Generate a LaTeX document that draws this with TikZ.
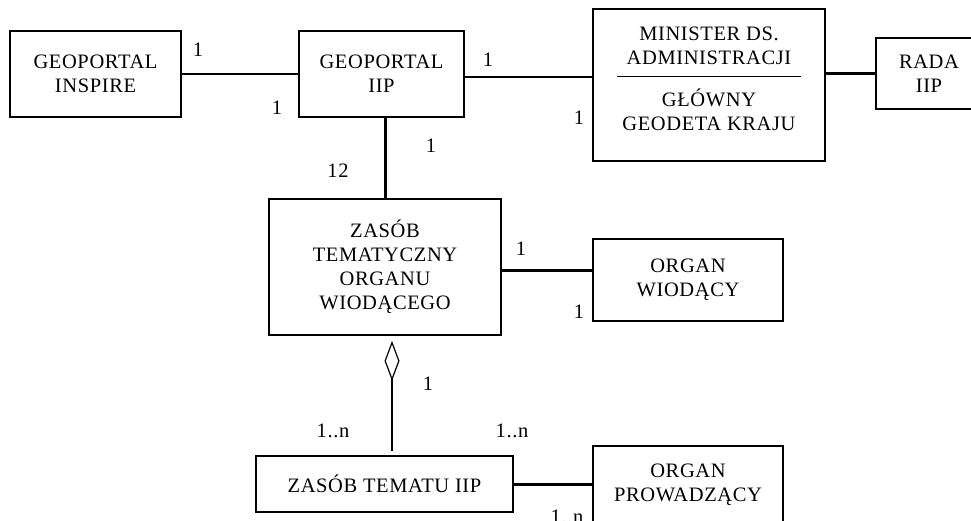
\documentclass[tikz,border=0pt]{standalone}
\usepackage{fontspec}
\setmainfont[LetterSpace=3]{Liberation Serif}
\usetikzlibrary{arrows.meta,calc}

\begin{document}
\begin{tikzpicture}[
  x=1pt,
  y=-1pt,
  box/.style={draw,line width=1.8pt,align=center,inner sep=0pt,
    font=\fontsize{20.5}{24}\selectfont},
  boxtext/.style={align=center,inner sep=0pt,font=\fontsize{20.5}{24}\selectfont},
  mult/.style={inner sep=0pt,font=\fontsize{20.5}{24}\selectfont},
  link/.style={line width=2pt},
  heavylink/.style={line width=3pt}
]
\useasboundingbox (0,0) rectangle (971,521);
\clip (0,0) rectangle (971,521);

% Top row
\node[box,minimum width=171pt,minimum height=86pt] (inspire) at (95.5,74)
  {GEOPORTAL\\INSPIRE};
\node[box,minimum width=165pt,minimum height=86pt] (iip) at (381.5,74)
  {GEOPORTAL\\IIP};
\node[box,minimum width=232pt,minimum height=152pt] (minister) at (709,85) {};
\node[boxtext] (ministerup) at (709,46) {MINISTER DS.\\ADMINISTRACJI};
\node[boxtext] (ministerdown) at (709,110) {GŁÓWNY\\GEODETA KRAJU};
\draw[line width=1pt] ($(minister.west)+(25,-8)$) -- ($(minister.east)+(-25,-8)$);
\node[box,minimum width=106pt,minimum height=71pt] (rada) at (929,73.5)
  {RADA\\IIP};

% Middle and bottom rows
\node[box,minimum width=232pt,minimum height=136pt] (zasob) at (385,267)
  {ZASÓB\\TEMATYCZNY\\ORGANU\\WIODĄCEGO};
\node[box,minimum width=190pt,minimum height=82pt] (wiodacy) at (688,280)
  {ORGAN\\WIODĄCY};
\node[box,minimum width=257pt,minimum height=56pt] (tematu) at (384.5,484)
  {ZASÓB TEMATU IIP};
\node[box,minimum width=190pt,minimum height=78pt] (prowadzacy) at (688,485)
  {ORGAN\\PROWADZĄCY};

% Associations
\draw[link] (inspire.east) -- (iip.west);
\draw[link] ([yshift=-3pt]iip.east) -- ([yshift=-3pt]iip.east -| minister.west);
\draw[heavylink] (rada.west -| minister.east) -- (rada.west);
\draw[heavylink] (iip.south -| zasob.north) -- (zasob.north);
\draw[heavylink] ([yshift=-3pt]zasob.east) -- ([yshift=-3pt]zasob.east -| wiodacy.west);
\draw[heavylink] (tematu.east) -- (tematu.east -| prowadzacy.west);
\draw[link,{Diamond[open,length=40pt,width=15pt,line width=1.2pt]}-,
  shorten <=5pt,shorten >=4pt]
  ([xshift=7pt]zasob.south) -- ([xshift=7pt]zasob.south |- tematu.north);

% Multiplicities
\node[mult] (m1) at (198,50) {1};
\node[mult] (m2) at (277,108) {1};
\node[mult] (m3) at (488,60) {1};
\node[mult] (m4) at (579,118) {1};
\node[mult] (m5) at (338,171) {12};
\node[mult] (m6) at (431,146) {1};
\node[mult] (m7) at (521,249) {1};
\node[mult] (m8) at (579,312) {1};
\node[mult] (m9) at (428,384) {1};
\node[mult] (m10) at (333,431) {1..n};
\node[mult] (m11) at (512,431) {1..n};
\node[mult] (m12) at (567,517) {1..n};

\end{tikzpicture}
\end{document}
